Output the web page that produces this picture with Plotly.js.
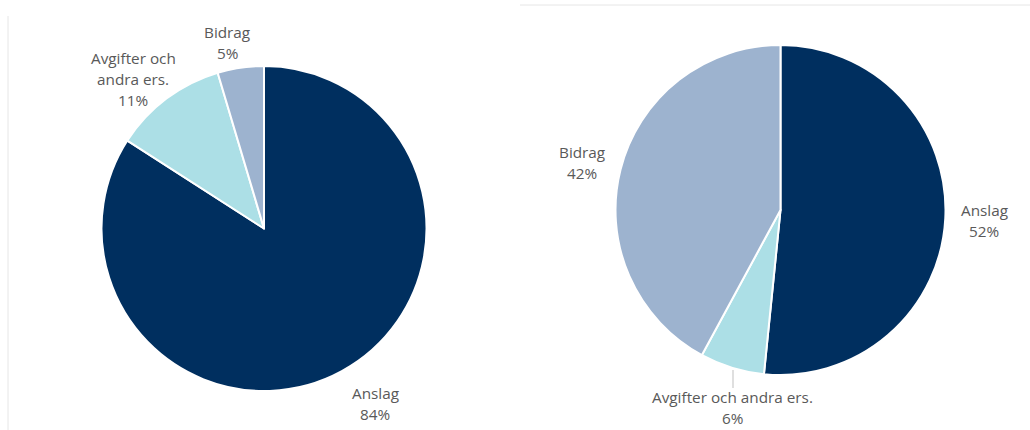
<!DOCTYPE html>
<html>
<head>
<meta charset="utf-8">
<script src="https://cdn.plot.ly/plotly-3.0.1.min.js"></script>
<style>
  html, body { margin: 0; padding: 0; background: #ffffff; }
  #chart { width: 1030px; height: 430px; }
</style>
</head>
<body>
<div id="chart"></div>
<script>
// ---- Data ----
const categories = ['Anslag', 'Avgifter och andra ers.', 'Bidrag'];
const leftValues = [84.1, 11.3, 4.6];
const rightValues = [51.6, 6.3, 42.1];
const leftLabelLines = [['Anslag'], ['Avgifter och', 'andra ers.'], ['Bidrag']];
const rightLabelLines = [['Anslag'], ['Avgifter och andra ers.'], ['Bidrag']];

// ---- Styles ----
const colors = ['#002f5f', '#acdfe6', '#9db3cf'];
const W = 1030, H = 430;
const textColor = '#595959';
const fontFamily = 'Open Sans, Noto Sans, sans-serif';
const fontSize = 15.3;
const lineGap = 21;

// label anchor (pixel centre of first line) per slice
const leftLabelPos = [[375, 393], [133, 58], [227, 32]];
const rightLabelPos = [[984, 210], [732.5, 397], [582, 152]];

function pieTrace(values, domainPx) {
  return {
    type: 'pie',
    labels: categories,
    values: values,
    sort: false,
    direction: 'clockwise',
    rotation: 0,
    textinfo: 'none',
    hoverinfo: 'label+percent',
    marker: { colors: colors, line: { color: '#ffffff', width: 2 } },
    domain: {
      x: [(domainPx.cx - domainPx.r) / W, (domainPx.cx + domainPx.r) / W],
      y: [1 - (domainPx.cy + domainPx.r) / H, 1 - (domainPx.cy - domainPx.r) / H]
    },
    showlegend: false
  };
}

function labelAnnotations(values, lines, pos) {
  const total = values.reduce((a, b) => a + b, 0);
  const anns = [];
  values.forEach((v, i) => {
    const pct = Math.round(v / total * 100) + '%';
    const all = lines[i].concat([pct]);
    all.forEach((t, k) => {
      anns.push({
        xref: 'paper', yref: 'paper',
        x: pos[i][0] / W,
        y: 1 - (pos[i][1] + k * lineGap) / H,
        xanchor: 'center', yanchor: 'middle',
        text: t, showarrow: false,
        font: { family: fontFamily, size: fontSize, color: textColor }
      });
    });
  });
  return anns;
}

const data = [
  pieTrace(leftValues, { cx: 264, cy: 228.5, r: 162.5 }),
  pieTrace(rightValues, { cx: 780.5, cy: 210, r: 165 })
];

const layout = {
  width: W, height: H,
  margin: { l: 0, r: 0, t: 0, b: 0 },
  paper_bgcolor: '#ffffff',
  plot_bgcolor: '#ffffff',
  showlegend: false,
  annotations: labelAnnotations(leftValues, leftLabelLines, leftLabelPos)
    .concat(labelAnnotations(rightValues, rightLabelLines, rightLabelPos)),
  shapes: [
    { type: 'line', xref: 'paper', yref: 'paper', x0: 8 / W, x1: 8 / W, y0: 0, y1: 1 - 16 / H,
      line: { color: '#e6e6e6', width: 1 } },
    { type: 'line', xref: 'paper', yref: 'paper', x0: 520 / W, x1: 1, y0: 1 - 5 / H, y1: 1 - 5 / H,
      line: { color: '#e6e6e6', width: 1 } },
    { type: 'line', xref: 'paper', yref: 'paper', x0: 733 / W, x1: 733 / W, y0: 1 - 370 / H, y1: 1 - 388 / H,
      line: { color: '#bfbfbf', width: 1 } }
  ]
};

Plotly.newPlot('chart', data, layout, { displayModeBar: false, staticPlot: true });
</script>
</body>
</html>
